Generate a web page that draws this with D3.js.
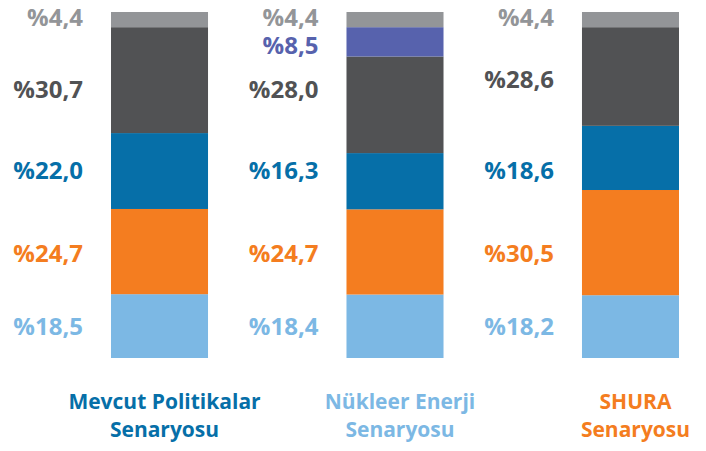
<!DOCTYPE html>
<html>
<head>
<meta charset="utf-8">
<script src="https://cdn.jsdelivr.net/npm/d3@7"></script>
<style>
  body { margin: 0; background: #fff; }
  svg text { font-family: "Open Sans", sans-serif; font-weight: 700; }
</style>
</head>
<body>
<div id="chart"></div>
<script>
/**
 * CONSTANTS AND GLOBALS
 * */
const width = 706,
  height = 451,
  margin = { top: 12, bottom: 93, left: 111, right: 27 };

// DATA -- stacked from the bottom up
const scenarios = ["Mevcut Politikalar", "Nükleer Enerji", "SHURA"];
const scenarioLines = [
  ["Mevcut Politikalar", "Senaryosu"],
  ["Nükleer Enerji", "Senaryosu"],
  ["SHURA", "Senaryosu"],
];
const seriesKeys = ["acik_mavi", "turuncu", "mavi", "koyu_gri", "mor", "gri"];
const acikMavi = [18.5, 18.4, 18.2];
const turuncu = [24.7, 24.7, 30.5];
const mavi = [22.0, 16.3, 18.6];
const koyuGri = [30.7, 28.0, 28.6];
const mor = [0, 8.5, 0];
const gri = [4.4, 4.4, 4.4];

const colors = {
  acik_mavi: "#7cb8e4",
  turuncu: "#f47d20",
  mavi: "#066fa8",
  koyu_gri: "#515254",
  mor: "#5762ad",
  gri: "#939598",
};
const titleColors = ["#066fa8", "#7cb8e4", "#f47d20"];

// small vertical nudges of the value labels (px)
const labelNudge = { turuncu: 5, koyu_gri: 2, mor: 4, gri: -2 };
const labelNudgeShura = { koyu_gri: -10 };

// table for d3.stack
const table = scenarios.map((s, i) => ({
  scenario: s,
  acik_mavi: acikMavi[i],
  turuncu: turuncu[i],
  mavi: mavi[i],
  koyu_gri: koyuGri[i],
  mor: mor[i],
  gri: gri[i],
}));

const stacked = d3.stack().keys(seriesKeys)(table);
const total = d3.max(table, d => d3.sum(seriesKeys, k => d[k]));

const svg = d3.select("#chart")
  .append("svg")
  .attr("width", width)
  .attr("height", height);

// SCALES
const xScale = d3.scaleBand()
  .domain(scenarios)
  .range([margin.left, width - margin.right])
  .paddingInner(0.588)
  .paddingOuter(0);

const yScale = d3.scaleLinear()
  .domain([0, total])
  .range([height - margin.bottom, margin.top]);

// BARS
svg.selectAll("g.layer")
  .data(stacked)
  .join("g")
  .attr("class", "layer")
  .attr("fill", d => colors[d.key])
  .selectAll("rect")
  .data(d => d.filter(p => p[1] - p[0] > 0))
  .join("rect")
  .attr("x", d => xScale(d.data.scenario))
  .attr("width", xScale.bandwidth())
  .attr("y", d => yScale(d[1]))
  .attr("height", d => yScale(d[0]) - yScale(d[1]));

// VALUE LABELS -- each series sits on one row, the mean midpoint across bars
const labels = [];
stacked.forEach(layer => {
  const present = layer.filter(p => p[1] - p[0] > 0);
  const rowY = d3.mean(present, p => yScale((p[0] + p[1]) / 2));
  present.forEach(p => {
    let y = rowY + (labelNudge[layer.key] || 0);
    if (p.data.scenario === "SHURA") y += (labelNudgeShura[layer.key] || 0);
    labels.push({
      key: layer.key,
      scenario: p.data.scenario,
      value: p[1] - p[0],
      y: y,
    });
  });
});

svg.selectAll("text.value")
  .data(labels)
  .join("text")
  .attr("class", "value")
  .attr("x", d => xScale(d.scenario) - 28)
  .attr("y", d => d.y)
  .attr("dy", "0.36em")
  .attr("text-anchor", "end")
  .attr("font-size", 24)
  .attr("fill", d => colors[d.key])
  .text(d => "%" + d3.format(".1f")(d.value).replace(".", ","));

// SCENARIO TITLES
svg.selectAll("text.title")
  .data(scenarios)
  .join("text")
  .attr("class", "title")
  .attr("x", d => xScale(d) + xScale.bandwidth() / 2 + 5)
  .attr("y", 409)
  .attr("text-anchor", "middle")
  .attr("font-size", 21)
  .attr("fill", (d, i) => titleColors[i])
  .selectAll("tspan")
  .data((d, i) => scenarioLines[i])
  .join("tspan")
  .attr("x", function() { return d3.select(this.parentNode).attr("x"); })
  .attr("dy", (d, i) => i === 0 ? 0 : 28)
  .text(d => d);
</script>
</body>
</html>
